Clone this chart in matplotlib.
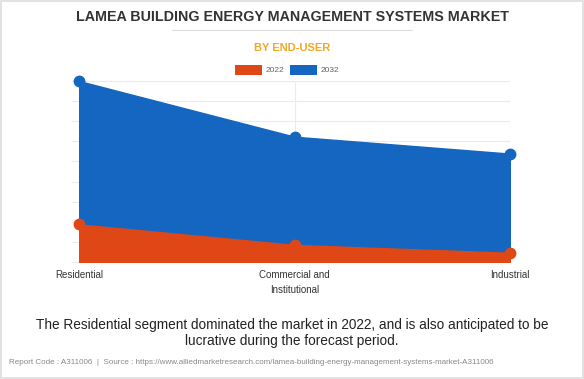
import matplotlib.pyplot as plt
from matplotlib.patches import Rectangle

# LAMEA building energy management systems market, by end-user
categories = ['Residential', 'Commercial and\nInstitutional', 'Industrial']
values_2022 = [1.87, 0.85, 0.46]
values_2032 = [9.0, 6.23, 5.39]
series_names = ['2022', '2032']

red = '#DF4716'
blue = '#1466C0'

plt.rcParams['font.family'] = ['Liberation Sans', 'DejaVu Sans']

fig = plt.figure(figsize=(5.84, 3.79), dpi=100)
fig.patch.set_facecolor('white')
fig.patches.append(Rectangle((0.002, 0.003), 0.996, 0.994, transform=fig.transFigure,
                             fill=False, edgecolor='#DDDDDD', linewidth=1.2))

W, H = 584, 379
cx = 292 / W
ax = fig.add_axes([79 / W, 1 - 262 / H, (510 - 79) / W, (262 - 81) / H])
x = list(range(len(categories)))

ax.fill_between(x, values_2032, color=blue, zorder=2)
ax.plot(x, values_2032, 'o', color=blue, markersize=7.5, clip_on=False, zorder=3)
ax.fill_between(x, values_2022, color=red, zorder=4)
ax.plot(x, values_2022, 'o', color=red, markersize=7.5, clip_on=False, zorder=5)

ax.set_xlim(0, 2)
ax.set_ylim(0, 9)
ax.set_yticks(range(0, 10))
ax.set_xticks(x)
ax.set_xticklabels(categories, fontsize=7, color='#333333', linespacing=1.6)
ax.set_yticklabels([])
ax.tick_params(axis='y', length=6, color='#EBEBEB', width=0.8)
ax.tick_params(axis='x', length=0, pad=6)
ax.grid(True, color='#EBEBEB', linewidth=0.8, zorder=0)
ax.set_axisbelow(True)
for s in ax.spines.values():
    s.set_visible(False)
ax.axhline(0, color='#DDDDDD', linewidth=0.8, zorder=1)

# titles
fig.text(cx, 1 - 17 / H, 'LAMEA BUILDING ENERGY MANAGEMENT SYSTEMS MARKET', ha='center', va='center',
         fontsize=10.3, fontweight='bold', color='#333333')
fig.add_artist(plt.Line2D([172 / W, 412 / W], [1 - 30 / H, 1 - 30 / H], color='#DDDDDD', linewidth=0.8))
fig.text(cx, 1 - 48 / H, 'BY END-USER', ha='center', va='center',
         fontsize=8, fontweight='bold', color='#F5A623')

# legend
for i, (name, col) in enumerate(zip(series_names, [red, blue])):
    x0 = (235 + i * 55) / W
    fig.patches.append(Rectangle((x0, 1 - 75 / H), 27 / W, 10 / H, transform=fig.transFigure,
                                 facecolor=col, edgecolor='none'))
    fig.text(x0 + 31 / W, 1 - 70 / H, name, ha='left', va='center', fontsize=6, color='#666666')

fig.text(cx, 1 - 333 / H, 'The Residential segment dominated the market in 2022, and is also anticipated to be\nlucrative during the forecast period.',
         ha='center', va='center', fontsize=9.8, color='#222222', linespacing=1.25)
fig.text(9 / W, 1 - 363 / H, 'Report Code : A311006  |  Source : https://www.alliedmarketresearch.com/lamea-building-energy-management-systems-market-A311006',
         ha='left', va='center', fontsize=5.8, color='#888888')

fig.savefig('out.png', dpi=100)
